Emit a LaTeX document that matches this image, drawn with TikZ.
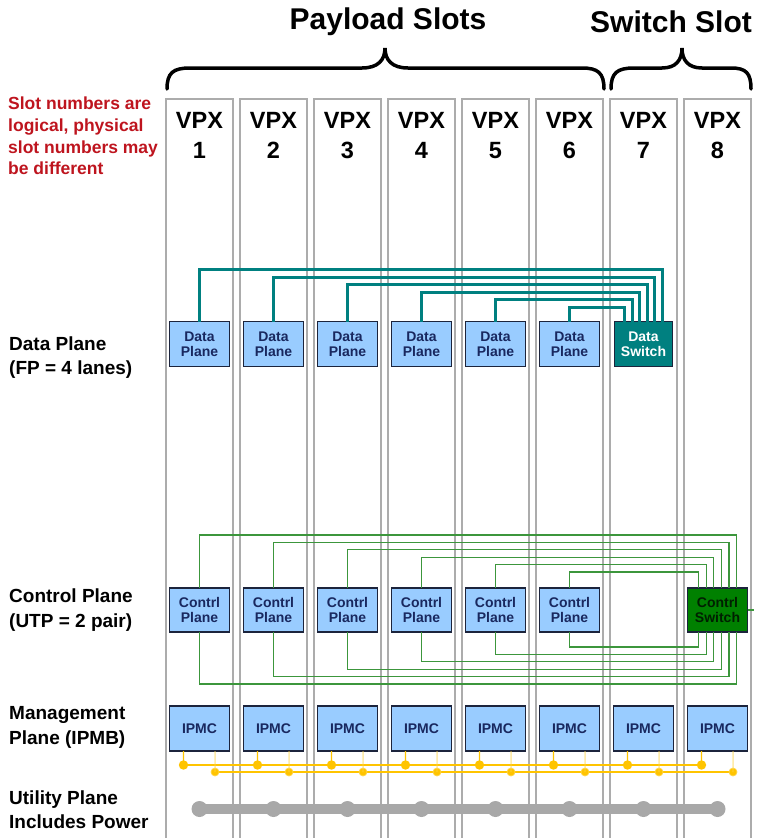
\documentclass[tikz,border=0pt]{standalone}
\usepackage{fontspec}
\setmainfont{Liberation Sans}
\usetikzlibrary{positioning}
\definecolor{slotgray}{RGB}{172,172,172}
\definecolor{boxblue}{RGB}{153,204,255}
\definecolor{boxline}{RGB}{28,36,60}
\definecolor{boxtext}{RGB}{25,40,95}
\definecolor{dsw}{RGB}{0,128,128}
\definecolor{csw}{RGB}{0,128,0}
\definecolor{cln}{RGB}{60,150,60}
\definecolor{busyellow}{RGB}{255,196,0}
\definecolor{pwrgray}{RGB}{168,168,168}
\definecolor{notered}{RGB}{190,20,30}

\begin{document}
\begin{tikzpicture}[x=1pt, y=-1pt,
  slot/.style={draw=slotgray, line width=1.2pt, minimum width=67pt, minimum height=760pt, inner sep=0pt, outer sep=0pt},
  vpx/.style={align=center, font=\bfseries\fontsize{23.5}{29.5}\selectfont, inner sep=0pt},
  headtxt/.style={font=\bfseries\fontsize{30}{34}\selectfont, inner sep=0pt},
  note/.style={align=left, text=notered, font=\bfseries\fontsize{17.5}{21.7}\selectfont, inner sep=0pt, anchor=north west},
  plabel/.style={align=left, font=\bfseries\fontsize{19}{24.5}\selectfont, inner sep=0pt, anchor=west},
  card/.style={draw=boxline, line width=1.2pt, fill=boxblue, text=boxtext, align=center, minimum width=60pt, minimum height=45pt, inner sep=1pt, outer sep=0pt, font=\bfseries\fontsize{14}{15}\selectfont},
  dswitch/.style={card, fill=dsw, text=white, minimum width=58pt},
  cswitch/.style={card, fill=csw, text=black!75!csw},
  dwire/.style={draw=dsw, line width=3pt},
  cwire/.style={draw=cln, line width=1.2pt},
  ibus/.style={draw=busyellow, fill=busyellow, line width=1.3pt},
  istub/.style={draw=busyellow!70, fill=busyellow, line width=0.7pt},
  pbus/.style={draw=pwrgray, line width=10pt},
  bracepath/.style={line width=3.5pt, line cap=round}
]
\useasboundingbox (0,0) rectangle (757,838);

% slots
\node[slot, anchor=north] (slot1) at (199.5,99) {};
\node[slot, right=7pt of slot1] (slot2) {};
\node[slot, right=7pt of slot2] (slot3) {};
\node[slot, right=7pt of slot3] (slot4) {};
\node[slot, right=7pt of slot4] (slot5) {};
\node[slot, right=7pt of slot5] (slot6) {};
\node[slot, right=7pt of slot6] (slot7) {};
\node[slot, right=7pt of slot7] (slot8) {};

\node[vpx] (vpx1) at ([yshift=-36.5pt]slot1.north) {VPX\\1};
\node[vpx] (vpx2) at ([yshift=-36.5pt]slot2.north) {VPX\\2};
\node[vpx] (vpx3) at ([yshift=-36.5pt]slot3.north) {VPX\\3};
\node[vpx] (vpx4) at ([yshift=-36.5pt]slot4.north) {VPX\\4};
\node[vpx] (vpx5) at ([yshift=-36.5pt]slot5.north) {VPX\\5};
\node[vpx] (vpx6) at ([yshift=-36.5pt]slot6.north) {VPX\\6};
\node[vpx] (vpx7) at ([yshift=-36.5pt]slot7.north) {VPX\\7};
\node[vpx] (vpx8) at ([yshift=-36.5pt]slot8.north) {VPX\\8};

% headings and braces
\node[headtxt] (payload) at (388,22) {Payload Slots};
\node[headtxt] (switch) at (671,22) {Switch Slot};
\draw[bracepath] (167,89) .. controls (167,73) and (173,68) .. (190,68) -- (362,68)
  .. controls (378,68) and (385,60) .. (385,48) .. controls (385,60) and (392,68) .. (408,68)
  -- (582,68) .. controls (598,68) and (604,73) .. (604,89);
\draw[bracepath] (611,89) .. controls (611,73) and (617,68) .. (634,68) -- (662,68)
  .. controls (676,68) and (682,60) .. (682,48) .. controls (682,60) and (688,68) .. (702,68)
  -- (731,68) .. controls (746,68) and (751,73) .. (751,89);

\node[note] (slotnote) at (8,97) {Slot numbers are\\logical, physical\\slot numbers may\\be different};

% plane labels
\node[plabel] (dlabel) at (9,357.5) {Data Plane\\(FP = 4 lanes)};
\node[plabel] (clabel) at (9,610) {Control Plane\\(UTP = 2 pair)};
\node[plabel] (mlabel) at (9,727.5) {Management\\Plane (IPMB)};
\node[plabel] (ulabel) at (9,809.5) {Utility Plane\\Includes Power};

% data plane
\node[card] (dp1) at (199.5,344) {Data\\Plane};
\node[card, right=14pt of dp1] (dp2) {Data\\Plane};
\node[card, right=14pt of dp2] (dp3) {Data\\Plane};
\node[card, right=14pt of dp3] (dp4) {Data\\Plane};
\node[card, right=14pt of dp4] (dp5) {Data\\Plane};
\node[card, right=14pt of dp5] (dp6) {Data\\Plane};
\node[dswitch, right=15pt of dp6] (ds) {Data\\Switch};

\draw[dwire] (dp1.north) -- ++(0,-52) -| ([xshift=19pt]ds.north);
\draw[dwire] (dp2.north) -- ++(0,-44.4) -| ([xshift=11.4pt]ds.north);
\draw[dwire] (dp3.north) -- ++(0,-36.8) -| ([xshift=3.8pt]ds.north);
\draw[dwire] (dp4.north) -- ++(0,-29.2) -| ([xshift=-3.8pt]ds.north);
\draw[dwire] (dp5.north) -- ++(0,-21.6) -| ([xshift=-11.4pt]ds.north);
\draw[dwire] (dp6.north) -- ++(0,-14) -| ([xshift=-19pt]ds.north);

% control plane
\node[card, minimum height=44pt] (cp1) at (199.5,610) {Contrl\\Plane};
\node[card, minimum height=44pt, right=14pt of cp1] (cp2) {Contrl\\Plane};
\node[card, minimum height=44pt, right=14pt of cp2] (cp3) {Contrl\\Plane};
\node[card, minimum height=44pt, right=14pt of cp3] (cp4) {Contrl\\Plane};
\node[card, minimum height=44pt, right=14pt of cp4] (cp5) {Contrl\\Plane};
\node[card, minimum height=44pt, right=14pt of cp5] (cp6) {Contrl\\Plane};
\node[cswitch, minimum height=44pt, right=88pt of cp6] (cs) {Contrl\\Switch};

\draw[cwire] (cp1.north) -- ++(0,-53) -| ([xshift=19pt]cs.north);
\draw[cwire] (cp2.north) -- ++(0,-45.6) -| ([xshift=11.4pt]cs.north);
\draw[cwire] (cp3.north) -- ++(0,-38.2) -| ([xshift=3.8pt]cs.north);
\draw[cwire] (cp4.north) -- ++(0,-30.8) -| ([xshift=-3.8pt]cs.north);
\draw[cwire] (cp5.north) -- ++(0,-23.4) -| ([xshift=-11.4pt]cs.north);
\draw[cwire] (cp6.north) -- ++(0,-16) -| ([xshift=-19pt]cs.north);
\draw[cwire] (cp1.south) -- ++(0,52) -| ([xshift=19pt]cs.south);
\draw[cwire] (cp2.south) -- ++(0,44.6) -| ([xshift=11.4pt]cs.south);
\draw[cwire] (cp3.south) -- ++(0,37.2) -| ([xshift=3.8pt]cs.south);
\draw[cwire] (cp4.south) -- ++(0,29.8) -| ([xshift=-3.8pt]cs.south);
\draw[cwire] (cp5.south) -- ++(0,22.4) -| ([xshift=-11.4pt]cs.south);
\draw[cwire] (cp6.south) -- ++(0,15) -| ([xshift=-19pt]cs.south);
\draw[cwire] (cs.east) -- ++(6,0);

% management plane
\node[card] (ip1) at (199.5,728.5) {IPMC};
\node[card, right=14pt of ip1] (ip2) {IPMC};
\node[card, right=14pt of ip2] (ip3) {IPMC};
\node[card, right=14pt of ip3] (ip4) {IPMC};
\node[card, right=14pt of ip4] (ip5) {IPMC};
\node[card, right=14pt of ip5] (ip6) {IPMC};
\node[card, right=14pt of ip6] (ip7) {IPMC};
\node[card, right=14pt of ip7] (ip8) {IPMC};

\draw[ibus] ([shift={(-16,14)}]ip1.south) -- ([shift={(-16,14)}]ip8.south);
\draw[ibus] ([shift={(15.5,21)}]ip1.south) -- ([shift={(15.5,21)}]ip8.south);
\filldraw[ibus] ([xshift=-16pt]ip1.south) -- ++(0,14) circle[radius=4pt];
\filldraw[ibus] ([xshift=-16pt]ip2.south) -- ++(0,14) circle[radius=4pt];
\filldraw[ibus] ([xshift=-16pt]ip3.south) -- ++(0,14) circle[radius=4pt];
\filldraw[ibus] ([xshift=-16pt]ip4.south) -- ++(0,14) circle[radius=4pt];
\filldraw[ibus] ([xshift=-16pt]ip5.south) -- ++(0,14) circle[radius=4pt];
\filldraw[ibus] ([xshift=-16pt]ip6.south) -- ++(0,14) circle[radius=4pt];
\filldraw[ibus] ([xshift=-16pt]ip7.south) -- ++(0,14) circle[radius=4pt];
\filldraw[ibus] ([xshift=-16pt]ip8.south) -- ++(0,14) circle[radius=4pt];
\filldraw[istub] ([xshift=15.5pt]ip1.south) -- ++(0,21) circle[radius=4pt];
\filldraw[istub] ([xshift=15.5pt]ip2.south) -- ++(0,21) circle[radius=4pt];
\filldraw[istub] ([xshift=15.5pt]ip3.south) -- ++(0,21) circle[radius=4pt];
\filldraw[istub] ([xshift=15.5pt]ip4.south) -- ++(0,21) circle[radius=4pt];
\filldraw[istub] ([xshift=15.5pt]ip5.south) -- ++(0,21) circle[radius=4pt];
\filldraw[istub] ([xshift=15.5pt]ip6.south) -- ++(0,21) circle[radius=4pt];
\filldraw[istub] ([xshift=15.5pt]ip7.south) -- ++(0,21) circle[radius=4pt];
\filldraw[istub] ([xshift=15.5pt]ip8.south) -- ++(0,21) circle[radius=4pt];

% utility plane
\coordinate (pwr) at (0,809);
\draw[pbus] (ip1 |- pwr) -- (ip8 |- pwr);
\fill[pwrgray] (ip1 |- pwr) circle[radius=8pt] (ip2 |- pwr) circle[radius=8pt]
  (ip3 |- pwr) circle[radius=8pt] (ip4 |- pwr) circle[radius=8pt]
  (ip5 |- pwr) circle[radius=8pt] (ip6 |- pwr) circle[radius=8pt]
  (ip7 |- pwr) circle[radius=8pt] (ip8 |- pwr) circle[radius=8pt];
\end{tikzpicture}
\end{document}
